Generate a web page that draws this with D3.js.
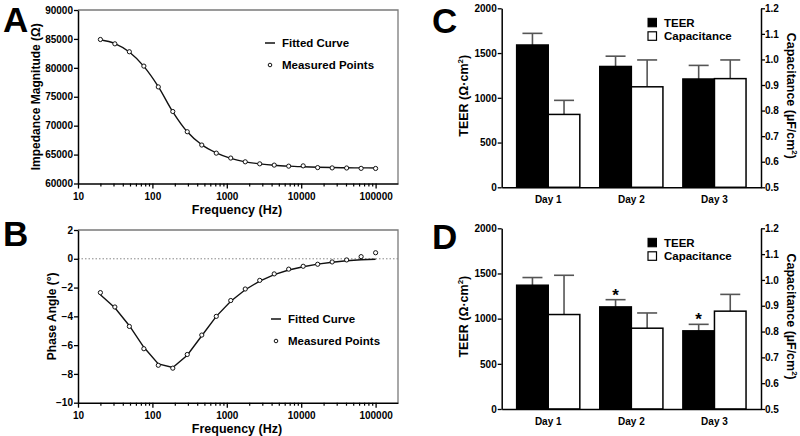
<!DOCTYPE html>
<html>
<head>
<meta charset="utf-8">
<script src="https://cdn.jsdelivr.net/npm/d3@7"></script>
<style>
body{margin:0;background:#fff;}
svg{display:block;font-family:"Liberation Sans",Arial,sans-serif;font-weight:bold;}
</style>
</head>
<body>
<svg id="chart" width="800" height="436"></svg>
<script>
// ---------- data ----------
const freq = [20, 31.3, 49.0, 76.8, 120, 188, 294, 461, 722, 1130, 1769, 2770, 4337, 6790, 10630, 16643, 26058, 40799, 63878, 100000];
const impMeasured = [84900, 84150, 82780, 80300, 76700, 72450, 68950, 66650, 65250, 64400, 63750, 63400, 63180, 63000, 63050, 62750, 62700, 62680, 62620, 62600];
const impFitted = [84850, 84200, 82750, 80250, 76750, 72400, 68950, 66700, 65300, 64350, 63750, 63400, 63150, 63000, 62900, 62820, 62760, 62720, 62700, 62690];
const phaseMeasured = [-2.35, -3.35, -4.7, -6.25, -7.4, -7.6, -6.65, -5.3, -4.0, -2.9, -2.1, -1.5, -1.05, -0.72, -0.52, -0.38, -0.22, -0.08, 0.15, 0.42];
const phaseFitted = [-2.5, -3.4, -4.65, -6.15, -7.3, -7.55, -6.7, -5.35, -4.0, -2.95, -2.15, -1.55, -1.1, -0.78, -0.55, -0.37, -0.24, -0.14, -0.07, -0.03];
const freqTicks = [10, 100, 1000, 10000, 100000];
const impTicks = [60000, 65000, 70000, 75000, 80000, 85000, 90000];
const phaseTicks = [-10, -8, -6, -4, -2, 0, 2];

const days = ["Day 1", "Day 2", "Day 3"];
const teerC = [1590, 1350, 1210];
const teerCErr = [130, 115, 152];
const capC = [0.785, 0.893, 0.925];
const capCErr = [0.055, 0.105, 0.073];
const teerD = [1370, 1130, 865];
const teerDErr = [85, 80, 72];
const capD = [0.866, 0.813, 0.879];
const capDErr = [0.152, 0.059, 0.065];
const sigD = ["", "*", "*"];
const teerTicks = [0, 500, 1000, 1500, 2000];
const capTicks = [0.5, 0.6, 0.7, 0.8, 0.9, 1.0, 1.1, 1.2];

const svg = d3.select("#chart");

// ---------- helpers ----------
function panelLetter(t, x, y) {
  svg.append("text").attr("x", x).attr("y", y).attr("font-size", 35).attr("font-weight", "bold").text(t);
}

function logPanel(opts) {
  const x = d3.scaleLog().domain([10, 200000]).range([78, 398]);
  const y = d3.scaleLinear().domain(opts.yDomain).range([opts.bottom, opts.top]);
  const g = svg.append("g");
  g.append("path")
    .attr("d", `M${x.range()[0]},${opts.top}H${x.range()[1]}V${opts.bottom}`)
    .attr("fill", "none").attr("stroke", "#7a7a7a").attr("stroke-width", 1.3);
  if (opts.zeroLine) {
    g.append("line").attr("x1", 78).attr("x2", 398).attr("y1", y(0)).attr("y2", y(0))
      .attr("stroke", "#888").attr("stroke-width", 1).attr("stroke-dasharray", "1.5,2");
  }
  const minor = [];
  for (let d = 10; d < 200000; d *= 10) for (let k = 2; k <= 9; k++) if (d * k < 200000) minor.push(d * k);
  g.append("g").attr("transform", `translate(0,${opts.bottom})`)
    .call(d3.axisBottom(x).tickValues(minor).tickSize(3).tickFormat(""))
    .call(a => a.select(".domain").remove())
    .selectAll("line").attr("stroke-width", 1.2);
  const xa = g.append("g").attr("transform", `translate(0,${opts.bottom})`)
    .call(d3.axisBottom(x).tickValues(freqTicks).tickSize(5).tickSizeOuter(0).tickFormat(d3.format("d")));
  xa.select(".domain").attr("stroke-width", 1.5);
  xa.selectAll("line").attr("stroke-width", 1.3);
  xa.selectAll("text").attr("font-size", 10).attr("font-weight", "bold").attr("font-family", "Liberation Sans, Arial").attr("dy", "0.85em");
  const ya = g.append("g").attr("transform", `translate(78,0)`)
    .call(d3.axisLeft(y).tickValues(opts.yTicks).tickSize(4).tickSizeOuter(0).tickFormat(d3.format("d")));
  ya.select(".domain").attr("stroke-width", 1.5);
  ya.selectAll("line").attr("stroke-width", 1.3);
  ya.selectAll("text").attr("font-size", 10).attr("font-weight", "bold").attr("font-family", "Liberation Sans, Arial").attr("x", -5);
  g.append("text").attr("x", 237).attr("y", opts.bottom + 30).attr("text-anchor", "middle")
    .attr("font-size", 12.5).text("Frequency (Hz)");
  g.append("text").attr("transform", `translate(${opts.yTitleX},${(opts.top + opts.bottom) / 2}) rotate(-90)`)
    .attr("text-anchor", "middle").attr("font-size", 12).text(opts.yTitle);
  const line = d3.line().x((d, i) => x(freq[i])).y(d => y(d)).curve(opts.curve);
  g.append("path").datum(opts.fitted).attr("d", line).attr("fill", "none").attr("stroke", "#111").attr("stroke-width", 1.4);
  g.selectAll("circle.pt").data(opts.measured).join("circle")
    .attr("cx", (d, i) => x(freq[i])).attr("cy", d => y(d)).attr("r", 2.1)
    .attr("fill", "#fff").attr("stroke", "#111").attr("stroke-width", 1);
  const lx = opts.legX, ly = opts.legY;
  g.append("line").attr("x1", lx).attr("x2", lx + 10).attr("y1", ly).attr("y2", ly).attr("stroke", "#111").attr("stroke-width", 1.5);
  g.append("text").attr("x", lx + 17).attr("y", ly).attr("dy", "0.35em").attr("font-size", 11.5).text("Fitted Curve");
  g.append("circle").attr("cx", lx + 5).attr("cy", ly + 22).attr("r", 1.8).attr("fill", "#fff").attr("stroke", "#111").attr("stroke-width", 1);
  g.append("text").attr("x", lx + 17).attr("y", ly + 22).attr("dy", "0.35em").attr("font-size", 11.5).text("Measured Points");
}

function barPanel(opts) {
  const left = 501.7, right = 761;
  const x = d3.scaleBand().domain(days).range([left, right]).paddingInner(0.24).paddingOuter(0.18);
  const yL = d3.scaleLinear().domain([0, 2000]).range([opts.bottom, opts.top]);
  const yR = d3.scaleLinear().domain([0.5, 1.2]).range([opts.bottom, opts.top]);
  const bw = x.bandwidth() / 2;
  const g = svg.append("g");

  const errs = [];
  days.forEach((d, i) => {
    errs.push({cx: x(d) + bw / 2, y0: yL(opts.teer[i]), y1: yL(opts.teer[i] + opts.teerErr[i])});
    errs.push({cx: x(d) + bw * 1.5, y0: yR(opts.cap[i]), y1: yR(opts.cap[i] + opts.capErr[i])});
  });
  const eg = g.append("g").attr("stroke", "#555").attr("stroke-width", 1.6);
  errs.forEach(e => {
    eg.append("line").attr("x1", e.cx).attr("x2", e.cx).attr("y1", e.y0).attr("y2", e.y1);
    eg.append("line").attr("x1", e.cx - 10).attr("x2", e.cx + 10).attr("y1", e.y1).attr("y2", e.y1);
  });
  g.selectAll("rect.teer").data(opts.teer).join("rect")
    .attr("x", (d, i) => x(days[i])).attr("width", bw)
    .attr("y", d => yL(d)).attr("height", d => opts.bottom - yL(d))
    .attr("fill", "#000").attr("stroke", "#000").attr("stroke-width", 1.5);
  g.selectAll("rect.cap").data(opts.cap).join("rect")
    .attr("x", (d, i) => x(days[i]) + bw).attr("width", bw)
    .attr("y", d => yR(d)).attr("height", d => opts.bottom - yR(d))
    .attr("fill", "#fff").attr("stroke", "#000").attr("stroke-width", 1.5);
  if (opts.sig) {
    opts.sig.forEach((s, i) => {
      if (!s) return;
      g.append("text").attr("x", x(days[i]) + bw / 2).attr("y", yL(opts.teer[i] + opts.teerErr[i]) + 1)
        .attr("text-anchor", "middle").attr("font-size", 17).text(s);
    });
  }
  const xa = g.append("g").attr("transform", `translate(0,${opts.bottom})`)
    .call(d3.axisBottom(x).tickSize(0).tickSizeOuter(0));
  xa.select(".domain").attr("stroke-width", 1.5);
  xa.selectAll("text").attr("font-size", 10).attr("font-weight", "bold").attr("font-family", "Liberation Sans, Arial").attr("dy", "1.3em");
  const la = g.append("g").attr("transform", `translate(${left},0)`)
    .call(d3.axisLeft(yL).tickValues(teerTicks).tickSize(4).tickSizeOuter(0).tickFormat(d3.format("d")));
  la.select(".domain").attr("stroke-width", 1.5);
  la.selectAll("line").attr("stroke-width", 1.3);
  la.selectAll("text").attr("font-size", 10).attr("font-weight", "bold").attr("font-family", "Liberation Sans, Arial").attr("x", -5);
  const ra = g.append("g").attr("transform", `translate(${right},0)`)
    .call(d3.axisRight(yR).tickValues(capTicks).tickSize(4).tickSizeOuter(0).tickFormat(d3.format(".1f")));
  ra.select(".domain").attr("stroke-width", 1.5);
  ra.selectAll("line").attr("stroke-width", 1.3);
  ra.selectAll("text").attr("font-size", 10).attr("font-weight", "bold").attr("font-family", "Liberation Sans, Arial").attr("x", 4);
  const mid = (opts.top + opts.bottom) / 2 - 2;
  const tl = g.append("text").attr("transform", `translate(468,${mid}) rotate(-90)`)
    .attr("text-anchor", "middle").attr("font-size", 12.5);
  tl.append("tspan").text("TEER (Ω·cm");
  tl.append("tspan").attr("font-size", 8).attr("dy", -5).text("2");
  tl.append("tspan").attr("dy", 5).text(")");
  const tr = g.append("text").attr("transform", `translate(787,${mid}) rotate(90)`)
    .attr("text-anchor", "middle").attr("font-size", 12.5);
  tr.append("tspan").text("Capacitance (µF/cm");
  tr.append("tspan").attr("font-size", 8).attr("dy", -5).text("2");
  tr.append("tspan").attr("dy", 5).text(")");
  const lx = 648, ly = opts.top + 10;
  g.append("rect").attr("x", lx).attr("y", ly).attr("width", 8.5).attr("height", 8.5).attr("fill", "#000").attr("stroke", "#000").attr("stroke-width", 1);
  g.append("text").attr("x", lx + 16).attr("y", ly + 4.5).attr("dy", "0.35em").attr("font-size", 11.5).text("TEER");
  g.append("rect").attr("x", lx).attr("y", ly + 13.5).attr("width", 8.5).attr("height", 8.5).attr("fill", "#fff").attr("stroke", "#000").attr("stroke-width", 1.2);
  g.append("text").attr("x", lx + 16).attr("y", ly + 18).attr("dy", "0.35em").attr("font-size", 11.5).text("Capacitance");
}

// ---------- panels ----------
panelLetter("A", 3, 32);
logPanel({top: 10, bottom: 183.5, yDomain: [60000, 90000], yTicks: impTicks,
  yTitle: "Impedance Magnitude (Ω)", yTitleX: 40, measured: impMeasured, fitted: impFitted,
  curve: d3.curveMonotoneX, legX: 265, legY: 43});

panelLetter("B", 3, 246);
logPanel({top: 230, bottom: 402.7, yDomain: [-10, 2], yTicks: phaseTicks,
  yTitle: "Phase Angle (°)", yTitleX: 56, measured: phaseMeasured, fitted: phaseFitted,
  curve: d3.curveLinear, legX: 271, legY: 319, zeroLine: true});

panelLetter("C", 432, 33);
barPanel({top: 8.3, bottom: 187.3, teer: teerC, teerErr: teerCErr, cap: capC, capErr: capCErr});

panelLetter("D", 432, 249);
barPanel({top: 228.3, bottom: 409, teer: teerD, teerErr: teerDErr, cap: capD, capErr: capDErr, sig: sigD});
</script>
</body>
</html>
